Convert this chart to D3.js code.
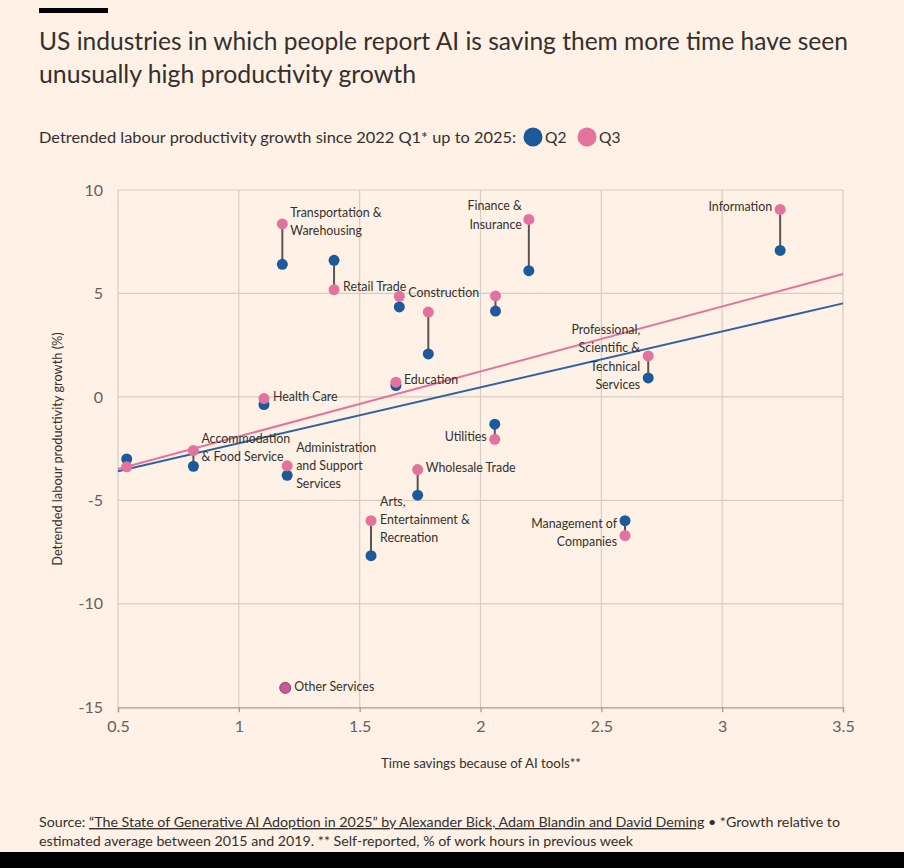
<!DOCTYPE html>
<html>
<head>
<meta charset="utf-8">
<script src="https://cdn.jsdelivr.net/npm/d3@7"></script>
<style>
  html, body { margin: 0; padding: 0; background: #fff1e5; }
  svg { display: block; }
</style>
</head>
<body>
<svg id="chart" width="904" height="868"></svg>
<script>
// ---------- DATA ----------
const industries = [
  "Transportation & Warehousing", "Retail Trade", "Construction", "(unlabelled A)",
  "Education", "Health Care", "Finance & Insurance", "(unlabelled B)",
  "Information", "Professional, Scientific & Technical Services", "Utilities",
  "Wholesale Trade", "Arts, Entertainment & Recreation", "Management of Companies",
  "Other Services", "Accommodation & Food Service", "Administration and Support Services",
  "(unlabelled C)"
];
const timeSavings = [1.18, 1.394, 1.664, 1.784, 1.65, 1.104, 2.20, 2.062, 3.24, 2.694, 2.059, 1.74, 1.547, 2.598, 1.192, 0.812, 1.20, 0.536];
const q2Growth    = [6.41, 6.60, 4.35, 2.08, 0.55, -0.37, 6.10, 4.15, 7.08, 0.92, -1.32, -4.75, -7.67, -5.98, -14.06, -3.35, -3.79, -3.00];
const q3Growth    = [8.36, 5.18, 4.86, 4.10, 0.71, -0.08, 8.58, 4.88, 9.06, 1.98, -2.05, -3.51, -5.98, -6.70, -14.06, -2.59, -3.33, -3.38];
const labelLines  = [
  ["Transportation &", "Warehousing"], ["Retail Trade"], ["Construction"], [],
  ["Education"], ["Health Care"], ["Finance &", "Insurance"], [],
  ["Information"], ["Professional,", "Scientific &", "Technical", "Services"], ["Utilities"],
  ["Wholesale Trade"], ["Arts,", "Entertainment &", "Recreation"], ["Management of", "Companies"],
  ["Other Services"], ["Accommodation", "& Food Service"], ["Administration", "and Support", "Services"],
  []
];
const trendX  = [0.5, 3.5];
const trendQ2 = [-3.59, 4.52];
const trendQ3 = [-3.48, 5.94];
const xTicks = [0.5, 1, 1.5, 2, 2.5, 3, 3.5];
const yTicks = [10, 5, 0, -5, -10, -15];

// ---------- LAYOUT (positions/styles, not data) ----------
const labelLayout = [
  {anchor: "start", dx: 8,  dy: -10},
  {anchor: "start", dx: 9,  dy: -2},
  {anchor: "start", dx: 9,  dy: -2},
  null,
  {anchor: "start", dx: 8,  dy: -1},
  {anchor: "start", dx: 9,  dy: -1},
  {anchor: "end",   dx: -7, dy: -12},
  null,
  {anchor: "end",   dx: -8, dy: -1},
  {anchor: "end",   dx: -8, dy: -25},
  {anchor: "end",   dx: -8, dy: -1},
  {anchor: "start", dx: 8,  dy: -1},
  {anchor: "start", dx: 9,  dy: -18},
  {anchor: "end",   dx: -8, dy: -11},
  {anchor: "start", dx: 9,  dy: 0},
  {anchor: "start", dx: 8,  dy: -11},
  {anchor: "start", dx: 9,  dy: -17},
  null
];

const BG = "#fff1e5", TEXT = "#33302e", MUTED = "#66605c";
const BLUE = "#1b5a9b", PINK = "#e3739c";
const FONT = "Lato, 'Open Sans', sans-serif";

const svg = d3.select("#chart").style("font-family", FONT);
svg.append("rect").attr("width", 904).attr("height", 868).attr("fill", BG);

// top black bar
svg.append("rect").attr("x", 39).attr("y", 8).attr("width", 69).attr("height", 5).attr("fill", "#000");
// bottom black bar
svg.append("rect").attr("x", 0).attr("y", 852).attr("width", 904).attr("height", 16).attr("fill", "#000");

// title
svg.append("text").attr("x", 39).attr("y", 50).attr("fill", TEXT).attr("font-size", 24.5)
  .attr("textLength", 809).attr("lengthAdjust", "spacingAndGlyphs")
  .text("US industries in which people report AI is saving them more time have seen");
svg.append("text").attr("x", 39).attr("y", 83).attr("fill", TEXT).attr("font-size", 24.5)
  .attr("textLength", 377).attr("lengthAdjust", "spacingAndGlyphs")
  .text("unusually high productivity growth");

// subtitle / legend
svg.append("text").attr("x", 39).attr("y", 143).attr("fill", TEXT).attr("font-size", 15.5)
  .attr("textLength", 477).attr("lengthAdjust", "spacingAndGlyphs")
  .text("Detrended labour productivity growth since 2022 Q1* up to 2025:");
svg.append("circle").attr("cx", 533).attr("cy", 137).attr("r", 9.5).attr("fill", BLUE);
svg.append("text").attr("x", 545).attr("y", 143).attr("fill", TEXT).attr("font-size", 15.5).text("Q2");
svg.append("circle").attr("cx", 587).attr("cy", 137).attr("r", 9.5).attr("fill", PINK);
svg.append("text").attr("x", 599).attr("y", 143).attr("fill", TEXT).attr("font-size", 15.5).text("Q3");

// scales
const x = d3.scaleLinear().domain([0.5, 3.5]).range([118, 843]);
const y = d3.scaleLinear().domain([-15, 10]).range([707.3, 190]);

// grid
const grid = svg.append("g");
grid.selectAll("line.v").data(xTicks).join("line")
  .attr("x1", d => x(d)).attr("x2", d => x(d)).attr("y1", y(10)).attr("y2", y(-15))
  .attr("stroke", "#d8cdc3").attr("stroke-width", 1.2);
grid.selectAll("line.h").data(yTicks.filter(d => d !== -15)).join("line")
  .attr("class", "h")
  .attr("x1", x(0.5)).attr("x2", x(3.5)).attr("y1", d => y(d)).attr("y2", d => y(d))
  .attr("stroke", "#d8cdc3").attr("stroke-width", 1.2);

// x axis
const fmt = d => String(d);
const xAxis = svg.append("g").attr("transform", `translate(0,${y(-15)})`)
  .call(d3.axisBottom(x).tickValues(xTicks).tickSize(5).tickPadding(8).tickFormat(fmt));
xAxis.select(".domain").attr("stroke", "#a59d96").attr("stroke-width", 1.3);
xAxis.selectAll(".tick line").attr("stroke", "#a59d96").attr("stroke-width", 1.3);
xAxis.selectAll("text").attr("fill", MUTED).attr("font-size", 16).attr("font-family", FONT);

// y axis
const yAxis = svg.append("g").attr("transform", `translate(${x(0.5)},0)`)
  .call(d3.axisLeft(y).tickValues(yTicks).tickSize(0).tickPadding(15).tickFormat(fmt));
yAxis.select(".domain").remove();
yAxis.selectAll("text").attr("fill", MUTED).attr("font-size", 16).attr("font-family", FONT);

// axis titles
svg.append("text").attr("x", 481).attr("y", 768).attr("text-anchor", "middle")
  .attr("fill", TEXT).attr("font-size", 13.3).text("Time savings because of AI tools**");
svg.append("text").attr("transform", `translate(62,449) rotate(-90)`).attr("text-anchor", "middle")
  .attr("fill", TEXT).attr("font-size", 12.8).text("Detrended labour productivity growth (%)");

// trend lines
const line = d3.line().x(d => x(d[0])).y(d => y(d[1]));
svg.append("path").datum(trendX.map((v, i) => [v, trendQ2[i]])).attr("d", line)
  .attr("stroke", "#2e62a3").attr("stroke-width", 2).attr("fill", "none");
svg.append("path").datum(trendX.map((v, i) => [v, trendQ3[i]])).attr("d", line)
  .attr("stroke", PINK).attr("stroke-width", 2).attr("fill", "none");

// stems
const idx = d3.range(industries.length);
svg.append("g").selectAll("line").data(idx).join("line")
  .attr("x1", i => x(timeSavings[i])).attr("x2", i => x(timeSavings[i]))
  .attr("y1", i => y(q2Growth[i])).attr("y2", i => y(q3Growth[i]))
  .attr("stroke", "#5a5450").attr("stroke-width", 2);

// points
svg.append("g").selectAll("circle").data(idx).join("circle")
  .attr("cx", i => x(timeSavings[i])).attr("cy", i => y(q2Growth[i])).attr("r", 5.5)
  .attr("fill", BLUE);
svg.append("g").selectAll("circle").data(idx).join("circle")
  .attr("cx", i => x(timeSavings[i])).attr("cy", i => y(q3Growth[i])).attr("r", 5.5)
  .attr("fill", i => q2Growth[i] === q3Growth[i] ? "#c85a92" : PINK)
  .attr("stroke", i => q2Growth[i] === q3Growth[i] ? "#9b4677" : "none")
  .attr("stroke-width", 1);

// labels
const lg = svg.append("g");
idx.forEach(i => {
  const L = labelLayout[i];
  if (!L || labelLines[i].length === 0) return;
  const px = x(timeSavings[i]) + L.dx, py = y(q3Growth[i]) + L.dy;
  const t = lg.append("text").attr("x", px).attr("y", py).attr("text-anchor", L.anchor)
    .attr("fill", TEXT).attr("font-size", 12.4).attr("dominant-baseline", "middle");
  labelLines[i].forEach((s, k) => {
    t.append("tspan").attr("x", px).attr("dy", k === 0 ? 0 : 18.3).text(s);
  });
});

// footer
const f1 = svg.append("text").attr("x", 39).attr("y", 827).attr("fill", TEXT).attr("font-size", 14)
  .attr("textLength", 801).attr("lengthAdjust", "spacingAndGlyphs");
f1.append("tspan").text("Source: ");
f1.append("tspan").attr("text-decoration", "underline").text("\u201CThe State of Generative AI Adoption in 2025\u201D by Alexander Bick, Adam Blandin and David Deming");
f1.append("tspan").text(" \u2022 *Growth relative to");
svg.append("text").attr("x", 39).attr("y", 846).attr("fill", TEXT).attr("font-size", 14)
  .attr("textLength", 594).attr("lengthAdjust", "spacingAndGlyphs")
  .text("estimated average between 2015 and 2019. ** Self-reported, % of work hours in previous week");
</script>
</body>
</html>
